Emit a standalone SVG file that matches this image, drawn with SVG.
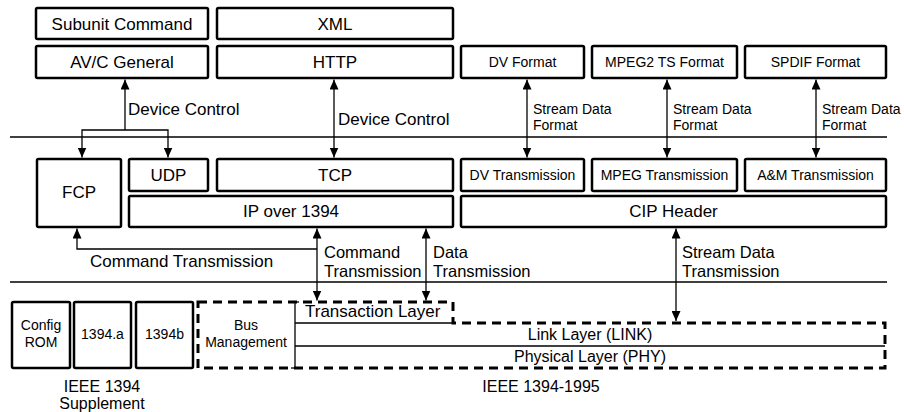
<svg xmlns="http://www.w3.org/2000/svg" width="904" height="412" viewBox="0 0 904 412">
<defs>
<marker id="ah" markerUnits="userSpaceOnUse" markerWidth="10" markerHeight="9" refX="10" refY="4.5" orient="auto-start-reverse"><path d="M0,0 L10,4.5 L0,9 Z" fill="#000"/></marker>
<style>
text{font-family:"Liberation Sans",Arial,sans-serif;fill:#000}
.box{fill:#fff;stroke:#000;stroke-width:2.5}
.t17{font-size:17px;text-anchor:middle}
.t14{font-size:14px;text-anchor:middle}
.l17{font-size:17px}
.l16{font-size:16.5px}
.l14{font-size:14px}
.ln{fill:none;stroke:#000;stroke-width:1.3}
.arr{fill:none;stroke:#000;stroke-width:1.3;marker-end:url(#ah)}
.bi{fill:none;stroke:#000;stroke-width:1.3;marker-end:url(#ah);marker-start:url(#ah)}
.dash{fill:none;stroke:#000;stroke-width:3;stroke-dasharray:9 6}
</style>
</defs>
<rect width="904" height="412" fill="#fff"/>
<g id="dividers">
<line class="ln" x1="10" y1="137" x2="887" y2="137"/>
<line class="ln" x1="10" y1="282" x2="887" y2="282"/>
</g>
<g id="n-subunit"><rect class="box" x="36" y="8" width="172" height="31" rx="1.5"/><text class="t17" x="122" y="29.5">Subunit Command</text></g>
<g id="n-xml"><rect class="box" x="217" y="8" width="236" height="31" rx="1.5"/><text class="t17" x="335" y="29.5">XML</text></g>
<g id="n-avc"><rect class="box" x="36" y="46" width="172" height="32" rx="1.5"/><text class="t17" x="122" y="68">AV/C General</text></g>
<g id="n-http"><rect class="box" x="217" y="46" width="236" height="32" rx="1.5"/><text class="t17" x="335" y="68">HTTP</text></g>
<g id="n-dvf"><rect class="box" x="461" y="46" width="123" height="32" rx="1.5"/><text class="t14" x="522.5" y="67">DV Format</text></g>
<g id="n-mpegf"><rect class="box" x="592" y="46" width="145" height="32" rx="1.5"/><text class="t14" x="664.5" y="67">MPEG2 TS Format</text></g>
<g id="n-spdif"><rect class="box" x="745" y="46" width="141" height="32" rx="1.5"/><text class="t14" x="815.5" y="67">SPDIF Format</text></g>
<g id="n-fcp"><rect class="box" x="37" y="159" width="84" height="68" rx="1.5"/><text class="t17" x="79" y="198">FCP</text></g>
<g id="n-udp"><rect class="box" x="129" y="159" width="79" height="32" rx="1.5"/><text class="t17" x="168.5" y="181">UDP</text></g>
<g id="n-tcp"><rect class="box" x="217" y="159" width="236" height="32" rx="1.5"/><text class="t17" x="335" y="181">TCP</text></g>
<g id="n-ip"><rect class="box" x="129" y="196" width="324" height="31" rx="1.5"/><text class="t17" x="291" y="217">IP over 1394</text></g>
<g id="n-dvt"><rect class="box" x="461" y="159" width="123" height="32" rx="1.5"/><text class="t14" x="522.5" y="180">DV Transmission</text></g>
<g id="n-mpegt"><rect class="box" x="592" y="159" width="145" height="32" rx="1.5"/><text class="t14" x="664.5" y="180">MPEG Transmission</text></g>
<g id="n-amt"><rect class="box" x="745" y="159" width="141" height="32" rx="1.5"/><text class="t14" x="815.5" y="180">A&amp;M Transmission</text></g>
<g id="n-cip"><rect class="box" x="461" y="196" width="425" height="31" rx="1.5"/><text class="t17" x="673.5" y="217">CIP Header</text></g>
<g id="n-config"><rect class="box" x="12" y="302" width="58" height="66" rx="1.5"/><text class="t14" x="41" y="330">Config</text><text class="t14" x="41" y="347">ROM</text></g>
<g id="n-1394a"><rect class="box" x="74" y="302" width="57" height="66" rx="1.5"/><text class="t14" x="102.5" y="339">1394.a</text></g>
<g id="n-1394b"><rect class="box" x="136" y="302" width="57" height="66" rx="1.5"/><text class="t14" x="164.5" y="339">1394b</text></g>
<g id="n-1995">
<path class="dash" d="M198,302 H453 V323 H885 V368 H198 Z"/>
<line class="ln" x1="295" y1="302" x2="295" y2="368"/>
<line class="ln" x1="291" y1="302" x2="299" y2="302"/>
<line class="ln" x1="291" y1="368" x2="299" y2="368"/>
<line class="ln" x1="295" y1="323" x2="453" y2="323"/>
<line class="ln" x1="295" y1="346" x2="885" y2="346"/>
<text class="t14" x="246" y="330">Bus</text>
<text class="t14" x="246" y="347">Management</text>
<text class="l17" x="305" y="317">Transaction Layer</text>
<text class="t17" x="590" y="340" style="font-size:16px">Link Layer (LINK)</text>
<text class="t17" x="590" y="362" style="font-size:16px">Physical Layer (PHY)</text>
</g>
<g id="captions">
<text class="t17" x="102" y="392" style="font-size:16px">IEEE 1394</text>
<text class="t17" x="102" y="409" style="font-size:16px">Supplement</text>
<text class="t17" x="541" y="392" style="font-size:16px">IEEE 1394-1995</text>
</g>
<g id="connectors">
<line class="arr" x1="125" y1="130" x2="125" y2="79.5"/>
<path class="arr" d="M125,130 H82 V157.5"/>
<path class="arr" d="M125,130 H168 V157.5"/>
<line class="bi" x1="334" y1="79.5" x2="334" y2="157.5"/>
<line class="bi" x1="527" y1="79.5" x2="527" y2="157.5"/>
<line class="bi" x1="667" y1="79.5" x2="667" y2="157.5"/>
<line class="bi" x1="816" y1="79.5" x2="816" y2="157.5"/>
<line class="bi" x1="317" y1="228.5" x2="317" y2="300.5"/>
<path class="arr" d="M317,249 H77 V228.5"/>
<line class="bi" x1="426" y1="228.5" x2="426" y2="300.5"/>
<line class="bi" x1="676" y1="228.5" x2="676" y2="321"/>
</g>
<g id="labels">
<text class="l17" x="128" y="115">Device Control</text>
<text class="l17" x="338" y="125">Device Control</text>
<text class="l14" x="533" y="114">Stream Data</text><text class="l14" x="533" y="130">Format</text>
<text class="l14" x="673" y="114">Stream Data</text><text class="l14" x="673" y="130">Format</text>
<text class="l14" x="822" y="114">Stream Data</text><text class="l14" x="822" y="130">Format</text>
<text class="l17" x="90" y="267">Command Transmission</text>
<text class="l16" x="324" y="258">Command</text><text class="l16" x="324" y="277">Transmission</text>
<text class="l16" x="433" y="258">Data</text><text class="l16" x="433" y="277">Transmission</text>
<text class="l16" x="682" y="258">Stream Data</text><text class="l16" x="682" y="277">Transmission</text>
</g>
</svg>
